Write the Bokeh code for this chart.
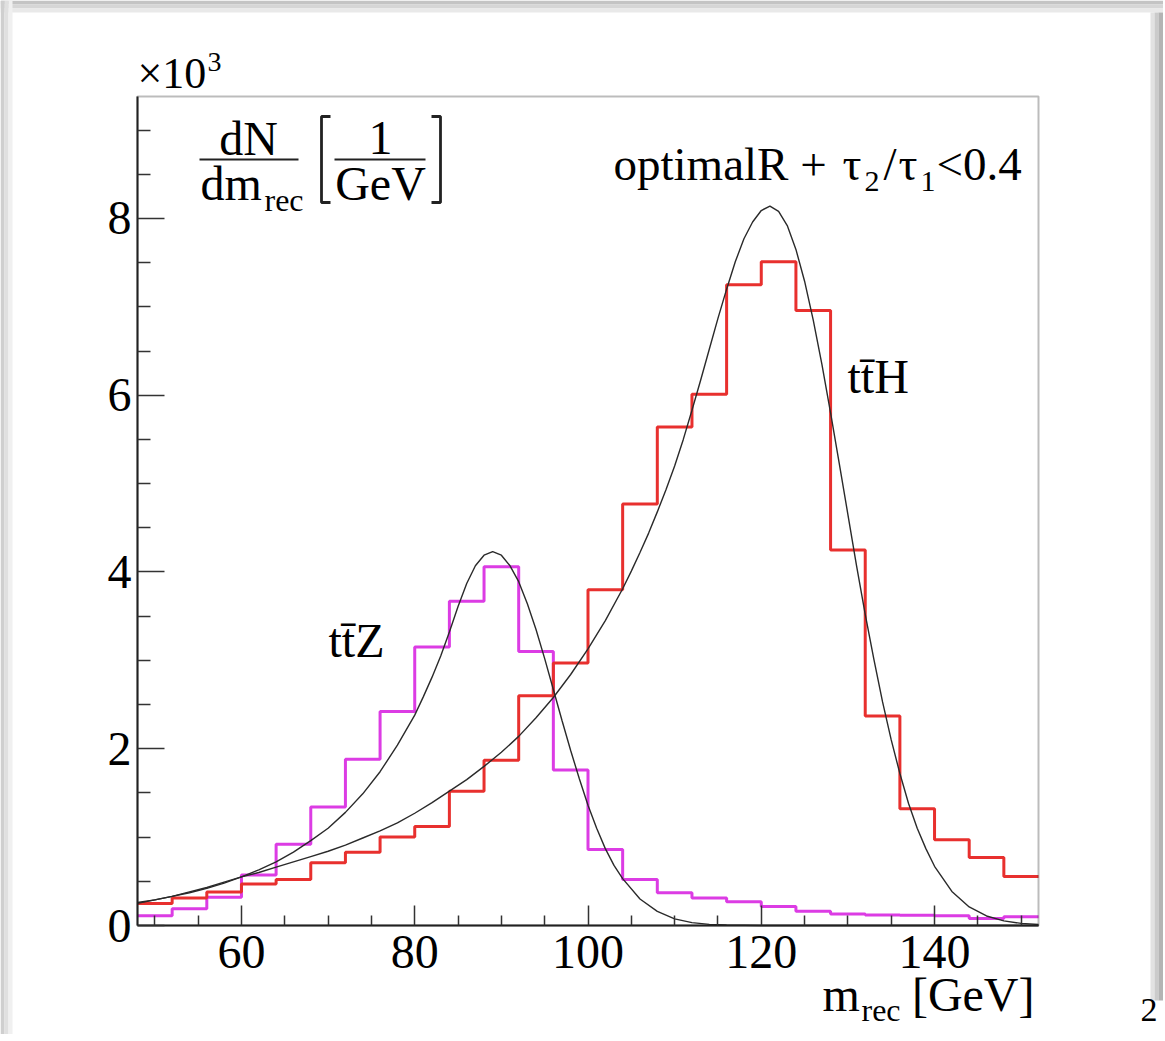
from bokeh.plotting import figure
from bokeh.models import Range1d, FixedTicker, Label, BoxAnnotation
from bokeh.embed import file_html
from bokeh.resources import INLINE

# ---------------- data ----------------
bin_edges = [48, 52, 56, 60, 64, 68, 72, 76, 80, 84, 88, 92, 96, 100, 104, 108,
             112, 116, 120, 124, 128, 132, 136, 140, 144, 148, 152]

tth_counts = [0.25, 0.31, 0.38, 0.47, 0.52, 0.71, 0.83, 1.00, 1.12, 1.52, 1.87,
              2.60, 2.97, 3.80, 4.77, 5.64, 6.01, 7.25, 7.51, 6.96, 4.25, 2.37,
              1.32, 0.97, 0.77, 0.555]

ttz_counts = [0.11, 0.19, 0.32, 0.57, 0.92, 1.34, 1.88, 2.42, 3.15, 3.67, 4.06,
              3.10, 1.76, 0.86, 0.52, 0.37, 0.31, 0.27, 0.215, 0.16, 0.13, 0.12,
              0.115, 0.11, 0.08, 0.10]

fit_ttz_x = [48, 50, 52, 54, 56, 58, 60, 62, 64, 66, 68, 70, 72, 74, 76, 78, 80,
             81, 82, 83, 84, 85, 86, 87, 88, 89, 90, 91, 92, 93, 94, 95, 96, 97,
             98, 99, 100, 101, 102, 103, 104, 106, 108, 110, 112, 114, 116, 118,
             120, 130, 140, 152]
fit_ttz_y = [0.26, 0.29, 0.33, 0.37, 0.42, 0.48, 0.55, 0.63, 0.72, 0.83, 0.96,
             1.10, 1.28, 1.49, 1.74, 2.04, 2.38, 2.59, 2.81, 3.05, 3.32, 3.61,
             3.87, 4.07, 4.19, 4.23, 4.19, 4.07, 3.89, 3.64, 3.35, 3.02, 2.67,
             2.32, 1.98, 1.66, 1.36, 1.10, 0.87, 0.68, 0.53, 0.30, 0.16, 0.075,
             0.032, 0.013, 0.005, 0.002, 0.0, 0.0, 0.0, 0.0]

fit_tth_x = [48, 50, 52, 54, 56, 58, 60, 62, 64, 66, 68, 70, 72, 74, 76, 78, 80,
             82, 84, 86, 88, 90, 92, 94, 96, 98, 100, 102, 104, 105, 106, 107,
             108, 109, 110, 111, 112, 113, 114, 115, 116, 117, 118, 119, 120,
             121, 122, 123, 124, 125, 126, 127, 128, 129, 130, 131, 132, 133,
             134, 135, 136, 137, 138, 139, 140, 142, 144, 146, 148, 150, 152]
fit_tth_y = [0.25, 0.29, 0.33, 0.38, 0.43, 0.49, 0.55, 0.60, 0.66, 0.72, 0.78,
             0.84, 0.91, 0.99, 1.07, 1.16, 1.27, 1.39, 1.52, 1.65, 1.80, 1.96,
             2.14, 2.35, 2.58, 2.84, 3.13, 3.45, 3.81, 4.01, 4.22, 4.44, 4.68,
             4.93, 5.20, 5.50, 5.83, 6.17, 6.52, 6.87, 7.20, 7.51, 7.77, 7.96,
             8.09, 8.14, 8.08, 7.92, 7.65, 7.29, 6.85, 6.35, 5.80, 5.23, 4.65,
             4.07, 3.52, 3.01, 2.53, 2.10, 1.72, 1.38, 1.10, 0.87, 0.67, 0.385,
             0.21, 0.108, 0.052, 0.024, 0.011]

x_major = [60, 80, 100, 120, 140]
x_minor = [50, 55, 65, 70, 75, 85, 90, 95, 105, 110, 115, 125, 130, 135, 145, 150]
y_major = [0, 2, 4, 6, 8]
y_minor = [0.5, 1, 1.5, 2.5, 3, 3.5, 4.5, 5, 5.5, 6.5, 7, 7.5, 8.5, 9]

# ---------------- layout helpers (page pixels -> data) ----------------
FL, FR, FT, FB = 137, 1038, 96, 925          # ROOT frame in page pixels
XMIN, XMAX, YMIN, YMAX = 48, 152, 0, 9.38


def X(px):
    return XMIN + (px - FL) * (XMAX - XMIN) / (FR - FL)


def Y(py):
    return YMIN + (FB - py) * (YMAX - YMIN) / (FB - FT)


W, H = 1163, 1034
p = figure(width=W, height=H, x_range=Range1d(X(0), X(W)), y_range=Range1d(Y(H), Y(0)),
           output_backend="svg", toolbar_location=None,
           min_border_left=0, min_border_right=0, min_border_top=0, min_border_bottom=0)
p.xgrid.visible = False
p.ygrid.visible = False
p.background_fill_color = "white"
p.border_fill_color = "white"
p.outline_line_color = None

# slide shadow (decoration)
for (x0, x1, y0, y1, c) in [(0, 1165, 0, 4, "#c4c4c4"), (0, 1165, 4, 8, "#d6d6d6"),
                            (0, 1165, 8, 12, "#e9e9e9"),
                            (0, 4, 0, 1041, "#cfcfcf"), (4, 8, 0, 1041, "#e0e0e0"),
                            (8, 12, 0, 1041, "#f0f0f0"),
                            (1150, 1154, 12, 1000, "#e2e2e2"), (1154, 1158, 12, 1000, "#cbcbcb"),
                            (1158, 1165, 12, 1000, "#b4b4b4")]:
    p.add_layout(BoxAnnotation(left=X(x0), right=X(x1), top=Y(y0), bottom=Y(y1),
                               fill_color=c, fill_alpha=1, line_color=None, level="underlay"))

SERIF = "Liberation Serif"
for ax in (p.xaxis[0], p.yaxis[0]):
    ax.axis_line_color = "#222222"
    ax.axis_line_width = 2
    ax.major_tick_line_color = "#333333"
    ax.minor_tick_line_color = "#333333"
    ax.major_tick_line_width = 1.5
    ax.minor_tick_line_width = 1.5
    ax.major_tick_out = 0
    ax.minor_tick_out = 0
    ax.major_label_text_font = SERIF
    ax.major_label_text_font_size = "48px"
    ax.major_label_text_color = "black"

p.xaxis.fixed_location = 0
p.xaxis.bounds = (XMIN, XMAX)
p.xaxis.ticker = FixedTicker(ticks=x_major, minor_ticks=x_minor)
p.xaxis.major_tick_in = 20
p.xaxis.minor_tick_in = 10
p.xaxis.major_label_standoff = 10
p.yaxis.fixed_location = XMIN
p.yaxis.bounds = (YMIN, YMAX)
p.yaxis.ticker = FixedTicker(ticks=y_major, minor_ticks=y_minor)
p.yaxis.major_tick_in = 27
p.yaxis.minor_tick_in = 13
p.yaxis.major_label_standoff = 6

# ROOT frame
p.add_layout(BoxAnnotation(left=XMIN, right=XMAX, bottom=YMIN, top=YMAX,
                           fill_alpha=0, line_color="#222222", line_width=2))

# histograms
p.step(x=bin_edges, y=ttz_counts + [ttz_counts[-1]], mode="after",
       line_color="#dc3ce4", line_width=3)
p.step(x=bin_edges, y=tth_counts + [tth_counts[-1]], mode="after",
       line_color="#e8302e", line_width=3)

# fits
p.line(fit_ttz_x, fit_ttz_y, line_color="#2a2a2a", line_width=1.4)
p.line(fit_tth_x, fit_tth_y, line_color="#2a2a2a", line_width=1.4)

BASE_SHIFT = 0.375   # empirical correction of the rendered baseline


def lab(px, py, text, size, align="left"):
    p.add_layout(Label(x=X(px), y=Y(py - BASE_SHIFT * size), text=text, text_font=SERIF,
                       text_font_size=f"{size}px", text_color="black",
                       text_baseline="alphabetic", text_align=align))


def seg(pts, w=2.2):
    p.line([X(a) for a, b in pts], [Y(b) for a, b in pts], line_color="#222222",
           line_width=w)


# x10^3
lab(137, 89, "\u00d710", 44)
lab(207, 72, "3", 28)

# y title  dN/dm_rec [1/GeV]
lab(248, 156, "dN", 48, "center")
seg([(199, 159), (298, 159)])
lab(200, 201, "dm", 48)
lab(264, 211, "rec", 32)
seg([(330, 116), (321, 116), (321, 202), (330, 202)], 2.8)
seg([(431, 116), (440, 116), (440, 202), (431, 202)], 2.8)
lab(380, 155, "1", 48, "center")
seg([(334, 159), (425, 159)])
lab(380, 201, "GeV", 48, "center")

# selection text
lab(613, 181, "optimalR +", 47)
lab(842, 181, "\u03c4", 47)
lab(864, 192, "2", 30)
lab(883, 181, "/", 47)
lab(898, 181, "\u03c4", 47)
lab(920, 192, "1", 30)
lab(936, 181, "<0.4", 47)

# process labels
lab(328, 658, "tt\u0304Z", 48)
lab(847, 394, "tt\u0304H", 48)

# x axis title
lab(822, 1012, "m", 48)
lab(861, 1021, "rec", 32)
lab(1034, 1012, "[GeV]", 48, "right")

# page number at the corner
lab(1140, 1022, "2", 34)

open("out.html", "w").write(file_html(p, INLINE))
